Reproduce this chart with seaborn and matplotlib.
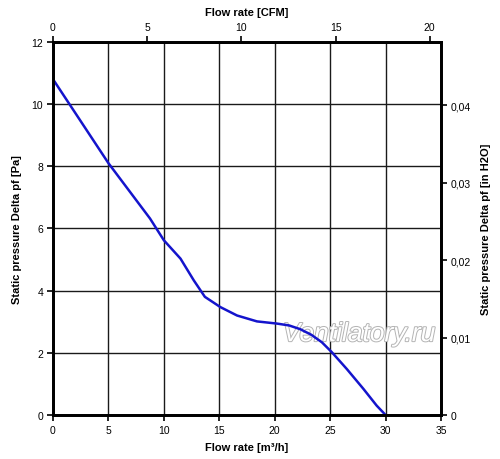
import numpy as np
import pandas as pd
import matplotlib
matplotlib.use("Agg")
import matplotlib.pyplot as plt
import matplotlib.patheffects as pe
from matplotlib.ticker import FuncFormatter
import seaborn as sns

# fan curve (m3/h vs Pa)
flow_m3h = [0, 5, 8.75, 10, 11.5, 12.7, 13.7, 15.1, 16.6, 18.4, 20.2, 21.3, 22.3, 23.3, 24.25, 25.15, 26.5, 28.0, 29.2, 30.0]
pressure_pa = [10.8, 8.1, 6.32, 5.62, 5.03, 4.33, 3.80, 3.47, 3.20, 3.01, 2.94, 2.88, 2.76, 2.58, 2.34, 2.02, 1.48, 0.84, 0.30, 0.0]

x_ticks = [0, 5, 10, 15, 20, 25, 30, 35]
y_ticks = [0, 2, 4, 6, 8, 10, 12]
cfm_ticks = [0, 5, 10, 15, 20]
inh2o_ticks = [0, 0.01, 0.02, 0.03, 0.04]

M3H_PER_CFM = 1.699
PA_PER_INH2O = 249.09

df = pd.DataFrame({"flow": flow_m3h, "pressure": pressure_pa})

sns.set_style("white")
plt.rcParams["font.family"] = ["Liberation Sans", "DejaVu Sans"]
plt.rcParams["text.color"] = "black"
plt.rcParams["axes.labelcolor"] = "black"
plt.rcParams["xtick.color"] = "black"
plt.rcParams["ytick.color"] = "black"

fig = plt.figure(figsize=(5, 4.6), dpi=100)
ax = fig.add_axes([0.106, 0.0957, 0.776, 0.811])

sns.lineplot(data=df, x="flow", y="pressure", ax=ax, color="#1414cc", lw=1.8, zorder=5)

ax.set_xlim(0, 35)
ax.set_ylim(0, 12)
ax.set_xticks(x_ticks)
ax.set_yticks(y_ticks)
ax.grid(True, color="#1a1a1a", lw=1.0)
ax.set_axisbelow(True)
ax.tick_params(labelsize=7.5, length=4, width=1.2, direction="out", colors="black", pad=3)
ax.tick_params(axis="x", bottom=True)
ax.tick_params(axis="y", left=True)
for s in ax.spines.values():
    s.set_visible(True)
    s.set_color("black")
    s.set_linewidth(1.8)

ax.set_xlabel("Flow rate [m³/h]", fontsize=8, fontweight="bold", labelpad=5)
ax.set_ylabel("Static pressure Delta pf [Pa]", fontsize=8, fontweight="bold", labelpad=7)

# top axis in CFM
top = ax.twiny()
top.set_xlim(0, 35 / M3H_PER_CFM)
top.set_xticks(cfm_ticks)
top.tick_params(labelsize=7.5, length=4, width=1.2, direction="out", pad=3)
top.set_xlabel("Flow rate [CFM]", fontsize=8, fontweight="bold", labelpad=5)
top.grid(False)

# right axis in inH2O
right = ax.twinx()
right.set_ylim(0, 12 / PA_PER_INH2O)
right.set_yticks(inh2o_ticks)
right.yaxis.set_major_formatter(FuncFormatter(lambda v, p: "0" if v == 0 else f"{v:.2f}".replace(".", ",")))
right.tick_params(labelsize=7.5, length=4, width=1.2, direction="out", pad=3)
right.set_ylabel("Static pressure Delta pf [in H2O]", fontsize=8, fontweight="bold", labelpad=7)
right.grid(False)

for a in (top, right):
    for s in a.spines.values():
        s.set_color("black")
        s.set_linewidth(1.8)

# watermark
ax.text(27.6, 2.6, "Ventilatory.ru", fontsize=19, style="italic", color="white",
        ha="center", va="center", zorder=4,
        path_effects=[pe.withStroke(linewidth=1.4, foreground="#b4b4b4")])

fig.savefig("out.png", dpi=100)
